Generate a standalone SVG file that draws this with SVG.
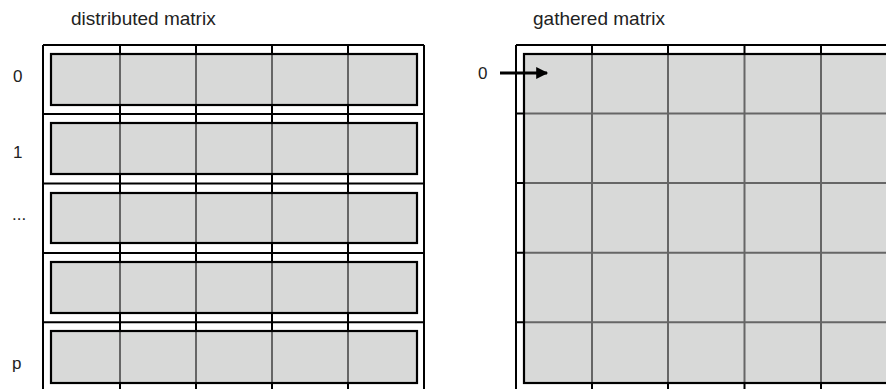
<svg xmlns="http://www.w3.org/2000/svg" width="886" height="389" viewBox="0 0 886 389">
  <style>
    .t { font-family: "Liberation Sans", Arial, Helvetica, sans-serif; fill: #222; }
    .title { font-size: 19px; }
    .lbl { font-size: 17px; }
    .grid { stroke: #000; stroke-width: 2; fill: none; }
    .cell { fill: #d8d9d8; stroke: none; }
    .inner { stroke: #666; stroke-width: 2; fill: none; }
    .frame { fill: none; stroke: #000; stroke-width: 2.2; }
  </style>
  <defs>
    <marker id="ah" viewBox="0 0 10 10" refX="9" refY="5" markerWidth="4.5" markerHeight="4" orient="auto" markerUnits="strokeWidth">
      <path d="M0,0 L10,5 L0,10 z" fill="#000"/>
    </marker>
  </defs>
  <rect width="886" height="389" fill="#fff"/>

  <text class="t title" x="71" y="25">distributed matrix</text>
  <text class="t title" x="533" y="25">gathered matrix</text>

  <g id="rank-labels">
    <text class="t lbl" x="13" y="82">0</text>
    <text class="t lbl" x="13" y="158">1</text>
    <text class="t lbl" x="12" y="220" fill="#555">...</text>
    <text class="t lbl" x="12" y="369">p</text>
    <text class="t lbl" x="478" y="79">0</text>
  </g>

  <g id="distributed-matrix">
    <path class="grid" d="M43,45 V389 M120,45 V389 M196,45 V389 M272,45 V389 M348,45 V389 M424,45 V389
      M43,45 H424 M43,114 H424 M43,183.5 H424 M43,253 H424 M43,322.2 H424"/>
    <g id="row-0">
      <rect class="cell" x="51" y="54" width="366" height="51"/>
      <path class="inner" d="M120,55 V104 M196,55 V104 M272,55 V104 M348,55 V104"/>
      <rect class="frame" x="51" y="54" width="366" height="51"/>
    </g>
    <g id="row-1">
      <rect class="cell" x="51" y="123" width="366" height="51"/>
      <path class="inner" d="M120,124 V173 M196,124 V173 M272,124 V173 M348,124 V173"/>
      <rect class="frame" x="51" y="123" width="366" height="51"/>
    </g>
    <g id="row-2">
      <rect class="cell" x="51" y="193" width="366" height="50"/>
      <path class="inner" d="M120,194 V242 M196,194 V242 M272,194 V242 M348,194 V242"/>
      <rect class="frame" x="51" y="193" width="366" height="50"/>
    </g>
    <g id="row-3">
      <rect class="cell" x="51" y="262" width="366" height="51"/>
      <path class="inner" d="M120,263 V312 M196,263 V312 M272,263 V312 M348,263 V312"/>
      <rect class="frame" x="51" y="262" width="366" height="51"/>
    </g>
    <g id="row-p">
      <rect class="cell" x="51" y="331" width="366" height="52"/>
      <path class="inner" d="M120,332 V382 M196,332 V382 M272,332 V382 M348,332 V382"/>
      <rect class="frame" x="51" y="331" width="366" height="52"/>
    </g>
  </g>

  <g id="gathered-matrix">
    <path class="grid" d="M516,45 V389 M592,45 V389 M668,45 V389 M744.5,45 V389 M821,45 V389
      M516,45 H886 M516,113.5 H886 M516,183 H886 M516,252.7 H886 M516,322.3 H886"/>
    <rect class="cell" x="524" y="54" width="370" height="329"/>
    <path class="inner" d="M592,55 V382 M668,55 V382 M744.5,55 V382 M821,55 V382
      M525,113.5 H886 M525,183 H886 M525,252.7 H886 M525,322.3 H886"/>
    <rect class="frame" x="524" y="54" width="370" height="329"/>
  </g>

  <g id="connectors">
    <line x1="500" y1="73" x2="547" y2="73" stroke="#000" stroke-width="3" marker-end="url(#ah)"/>
  </g>
</svg>
